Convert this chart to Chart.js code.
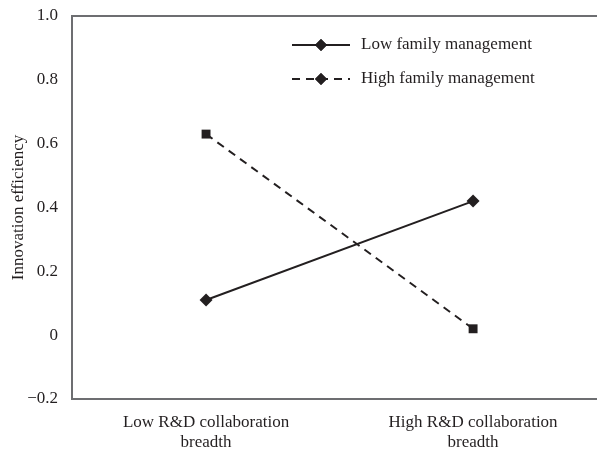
<!DOCTYPE html>
<html>
<head>
<meta charset="utf-8">
<script src="https://cdn.jsdelivr.net/npm/chart.js@4/dist/chart.umd.min.js"></script>
<style>
html,body{margin:0;padding:0;background:#fff;}
#wrap{width:597px;height:453px;position:relative;}
</style>
</head>
<body>
<div id="wrap"><canvas id="c" width="597" height="453"></canvas></div>
<script>
const categories = [["Low R&D collaboration","breadth"],["High R&D collaboration","breadth"]];
const seriesNames = ["Low family management","High family management"];
const lowFamily = [0.11, 0.42];
const highFamily = [0.63, 0.02];
const yTicks = [-0.2, 0, 0.2, 0.4, 0.6, 0.8, 1.0];
const yTickLabels = ["\u22120.2","0","0.2","0.4","0.6","0.8","1.0"];
const yTitle = "Innovation efficiency";

const FONT = "'Liberation Serif', 'DejaVu Serif', serif";
const INK = "#231f20";
const AXIS = "#6d6e71";
const FS = 17;

const legendPlugin = {
  id: 'customLegend',
  afterDraw(chart) {
    const ctx = chart.ctx;
    const area = chart.chartArea;
    ctx.save();
    ctx.strokeStyle = AXIS;
    ctx.lineWidth = 2;
    ctx.beginPath();
    ctx.moveTo(area.left - 1, area.top);
    ctx.lineTo(area.right, area.top);
    ctx.stroke();
    const x0 = 292, x1 = 350, tx = 361;
    const ys = [45, 79];
    chart.data.datasets.forEach((ds, i) => {
      const y = ys[i];
      ctx.strokeStyle = INK;
      ctx.lineWidth = 2;
      ctx.setLineDash(ds.borderDash || []);
      ctx.beginPath();
      ctx.moveTo(x0, y); ctx.lineTo(x1, y);
      ctx.stroke();
      ctx.setLineDash([]);
      Chart.helpers.drawPoint(ctx, {pointStyle:'rectRot', radius:6, borderWidth:0}, (x0+x1)/2, y);
      ctx.fillStyle = INK;
      ctx.fill();
      ctx.font = FS + "px " + FONT;
      ctx.textBaseline = 'middle';
      ctx.textAlign = 'left';
      ctx.fillText(ds.label, tx, y);
    });
    ctx.restore();
  }
};

new Chart(document.getElementById('c'), {
  type: 'line',
  data: {
    datasets: [
      {
        label: seriesNames[0],
        data: lowFamily.map((v, i) => ({x: i, y: v})),
        borderColor: INK, backgroundColor: INK,
        borderWidth: 2, pointStyle: 'rectRot', pointRadius: 6.5,
        pointBorderWidth: 0, tension: 0
      },
      {
        label: seriesNames[1],
        data: highFamily.map((v, i) => ({x: i, y: v})),
        borderColor: INK, backgroundColor: INK,
        borderWidth: 2, borderDash: [8, 6], pointStyle: 'rect', pointRadius: 6.3,
        pointBorderWidth: 0, tension: 0
      }
    ]
  },
  options: {
    responsive: false,
    animation: false,
    events: [],
    layout: {autoPadding: false, padding: {top: 16, right: 0, left: 0, bottom: 0}},
    plugins: {legend: {display: false}, tooltip: {enabled: false}},
    scales: {
      x: {
        type: 'linear',
        min: -0.502, max: 1.464,
        afterBuildTicks(s) { s.ticks = categories.map((c, i) => ({value: i})); },
        afterFit(s) { s.height = 54; s.paddingLeft = 0; s.paddingRight = 0; },
        grid: {display: false, drawTicks: false},
        border: {display: true, color: AXIS, width: 2},
        ticks: {
          color: INK, padding: 14, maxRotation: 0, autoSkip: false,
          font: {family: FONT, size: FS, lineHeight: 1.15},
          callback: (v) => categories[v]
        }
      },
      y: {
        type: 'linear',
        min: -0.2, max: 1.0,
        afterBuildTicks(s) { s.ticks = yTicks.map(v => ({value: v})); },
        afterFit(s) { s.width = 72; s.paddingTop = 0; s.paddingBottom = 0; },
        grid: {display: false, drawTicks: false},
        border: {display: true, color: AXIS, width: 2},
        ticks: {
          color: INK, padding: 14,
          font: {family: FONT, size: FS},
          callback: (v, i) => yTickLabels[i]
        },
        title: {
          display: true, text: yTitle, color: INK,
          font: {family: FONT, size: 17}, padding: {top: 8, bottom: 0}
        }
      }
    }
  },
  plugins: [legendPlugin]
});
</script>
</body>
</html>
